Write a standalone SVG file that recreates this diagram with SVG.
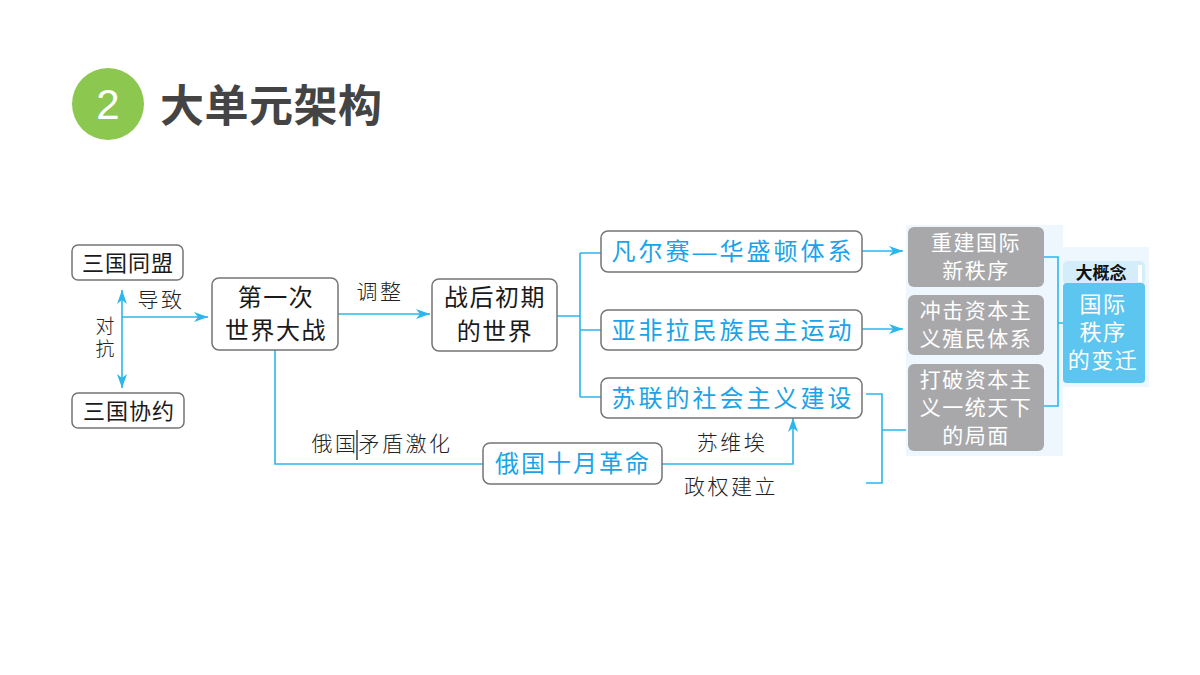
<svg xmlns="http://www.w3.org/2000/svg" width="1200" height="675" viewBox="0 0 1200 675">
<defs>
<style>
.box{fill:#fff;stroke:#747474;stroke-width:1.5}
.gbox{fill:#a8a8ab;stroke:none}
.t{font-family:"Liberation Sans","Noto Sans CJK SC",sans-serif;text-anchor:middle}
.k{fill:#1a1a1a;font-size:24px;letter-spacing:1.5px}
.b{fill:#1aa3e8;font-size:24px;letter-spacing:3px}
.w{fill:#fff;font-size:21px;letter-spacing:1.5px}
.lbl{fill:#222;font-size:21px;font-weight:300;letter-spacing:2.5px}
.ln{fill:none;stroke:#2bb6ec;stroke-width:1.6}
</style>
<marker id="ah" viewBox="0 0 14 10" refX="14" refY="5" markerWidth="14" markerHeight="10" markerUnits="userSpaceOnUse" orient="auto-start-reverse">
<path d="M0,0 L14,5 L0,10 L4,5 Z" fill="#2bb6ec"/>
</marker>
</defs>
<rect width="1200" height="675" fill="#fff"/>
<g id="title">
<circle cx="108" cy="104" r="36" fill="#8cc850"/>
<text x="108" y="119" class="t" style="fill:#fff;font-size:42px">2</text>
<text x="160" y="122" style="font-family:'Noto Sans CJK SC',sans-serif;font-weight:bold;font-size:44px;letter-spacing:0.5px;fill:#444">大单元架构</text>
</g>
<g id="panels">
<rect x="906" y="225" width="157" height="231" fill="#eef7fd"/>
<rect x="1061" y="247" width="88" height="140" fill="#eef7fd"/>
</g>
<g id="connectors">
<path class="ln" d="M122,290 V388" marker-start="url(#ah)" marker-end="url(#ah)"/>
<path class="ln" d="M122,317 H208" marker-end="url(#ah)"/>
<path class="ln" d="M338,314 H430" marker-end="url(#ah)"/>
<path class="ln" d="M557,316 H580 M580,253 V397 M580,253 H601 M580,330 H601 M580,397 H601"/>
<path class="ln" d="M862,251 H903" marker-end="url(#ah)"/>
<path class="ln" d="M862,329 H903" marker-end="url(#ah)"/>
<path class="ln" d="M866,394 H882 V483 H866 M882,430 H906"/>
<path class="ln" d="M275,350 V464 H483"/>
<path class="ln" d="M662,464 H793 V418" marker-end="url(#ah)"/>
<path class="ln" d="M1044,257 H1058 V406 H1044 M1058,323 H1063"/>
</g>
<g id="labels">
<text x="161" y="307" class="t lbl">导致</text>
<text x="105" y="333" class="t lbl" style="letter-spacing:0;font-size:19px">对</text>
<text x="105" y="356" class="t lbl" style="letter-spacing:0;font-size:19px">抗</text>
<text x="380" y="299" class="t lbl">调整</text>
<text x="382" y="451" class="t lbl">俄国矛盾激化</text>
<line x1="357" y1="430" x2="357" y2="460" stroke="#111" stroke-width="1.2"/>
<text x="732" y="450" class="t lbl">苏维埃</text>
<text x="731" y="494" class="t lbl">政权建立</text>
</g>
<g id="n-sanguotongmeng"><rect class="box" x="72" y="245" width="111" height="35" rx="6"/><text x="128" y="271" class="t k" style="font-size:22px;letter-spacing:1px">三国同盟</text></g>
<g id="n-sanguoxieyue"><rect class="box" x="72" y="393" width="112" height="35" rx="6"/><text x="129" y="419" class="t k" style="font-size:22px;letter-spacing:1px">三国协约</text></g>
<g id="n-yizhan"><rect class="box" x="212" y="278" width="126" height="72" rx="7"/><text x="276" y="306" class="t k">第一次</text><text x="276" y="339" class="t k">世界大战</text></g>
<g id="n-zhanhou"><rect class="box" x="432" y="279" width="125" height="72" rx="7"/><text x="495" y="306" class="t k">战后初期</text><text x="495" y="340" class="t k">的世界</text></g>
<g id="n-fanersai"><rect class="box" x="601" y="231" width="261" height="41" rx="7"/><text x="733" y="260" class="t b">凡尔赛—华盛顿体系</text></g>
<g id="n-yafeila"><rect class="box" x="601" y="310" width="261" height="40" rx="7"/><text x="733" y="339" class="t b">亚非拉民族民主运动</text></g>
<g id="n-sulian"><rect class="box" x="601" y="378" width="261" height="40" rx="7"/><text x="733" y="407" class="t b">苏联的社会主义建设</text></g>
<g id="n-eguo"><rect class="box" x="483" y="443" width="179" height="41" rx="7"/><text x="573" y="472" class="t b" style="letter-spacing:2px">俄国十月革命</text></g>
<g id="n-chongjian"><rect class="gbox" x="908" y="227" width="136" height="60" rx="6"/><text x="976" y="250" class="t w">重建国际</text><text x="976" y="278" class="t w">新秩序</text></g>
<g id="n-chongji"><rect class="gbox" x="908" y="295" width="136" height="60" rx="6"/><text x="976" y="318" class="t w">冲击资本主</text><text x="976" y="346" class="t w">义殖民体系</text></g>
<g id="n-dapo"><rect class="gbox" x="908" y="364" width="136" height="87" rx="6"/><text x="976" y="387" class="t w">打破资本主</text><text x="976" y="415" class="t w">义一统天下</text><text x="976" y="443" class="t w">的局面</text></g>
<g id="n-dagainian">
<rect x="1063" y="261" width="82" height="24" rx="5" fill="#d4edfa"/>
<rect x="1063" y="283" width="82" height="100" rx="4" fill="#5cc5f0"/>
<rect x="1138" y="265" width="4" height="17" fill="#fff"/>
<text x="1101" y="279" class="t" style="font-size:17px;font-weight:bold;fill:#111">大概念</text>
<text x="1103" y="312" class="t w" style="font-size:22px">国际</text>
<text x="1103" y="340" class="t w" style="font-size:22px">秩序</text>
<text x="1103" y="368" class="t w" style="font-size:22px">的变迁</text>
</g>
</svg>
